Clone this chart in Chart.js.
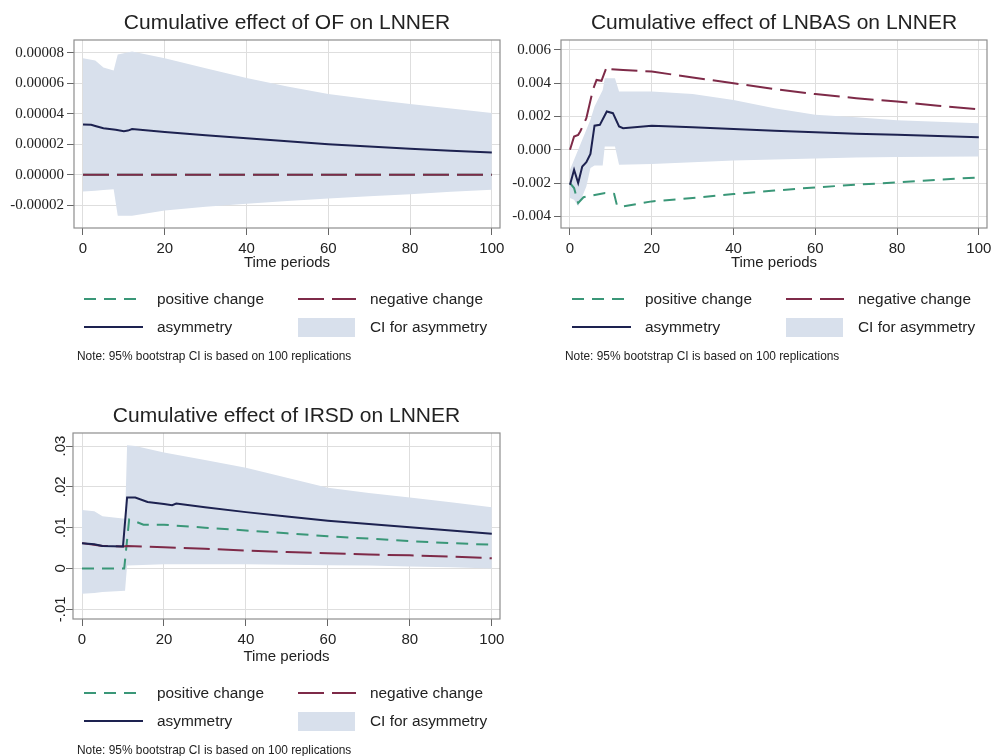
<!DOCTYPE html>
<html>
<head>
<meta charset="utf-8">
<script src="https://cdn.jsdelivr.net/npm/chart.js@4.4.1/dist/chart.umd.min.js"></script>
<style>
  html, body { margin: 0; padding: 0; background: #fff; }
  body { width: 991px; height: 756px; position: relative; overflow: hidden;
         font-family: "Liberation Sans", Arial, sans-serif; color: #222; }
  canvas { position: absolute; }
  .lg { position: absolute; font-size: 15.4px; line-height: 18px; white-space: nowrap; }
  .note { position: absolute; font-size: 11.9px; line-height: 14px; white-space: nowrap; }
  svg { position: absolute; overflow: visible; }
</style>
</head>
<body>
<canvas id="cOF" width="505" height="272" style="left:0;top:0"></canvas>
<canvas id="cBAS" width="503" height="272" style="left:488px;top:0"></canvas>
<canvas id="cIRSD" width="505" height="273" style="left:0;top:393px"></canvas>
<script>
  // ---- shared axis / legend text ----
  const xTicks = [0, 20, 40, 60, 80, 100];
  const xTitle = 'Time periods';
  const legendLabels = ['positive change', 'negative change', 'asymmetry', 'CI for asymmetry'];
  const noteText = 'Note: 95% bootstrap CI is based on 100 replications';

  // ---- OF on LNNER ----
  const ofAsymT = [0, 2, 3, 5, 8, 10, 11, 12, 20, 30, 40, 50, 60, 70, 80, 90, 100];
  const ofAsym  = [3.3e-5, 3.28e-5, 3.2e-5, 3.05e-5, 2.95e-5, 2.86e-5, 2.9e-5, 3.0e-5, 2.8e-5, 2.6e-5, 2.4e-5, 2.2e-5, 2.0e-5, 1.85e-5, 1.7e-5, 1.58e-5, 1.46e-5];
  const ofNegT  = [0, 100];
  const ofNeg   = [0, 0];
  const ofPosT  = [0, 100];
  const ofPos   = [0, 0];
  const ofCiT   = [0, 3, 5, 7.5, 8.5, 12, 20, 30, 40, 50, 60, 70, 80, 90, 100];
  const ofCiUp  = [7.65e-5, 7.5e-5, 7.05e-5, 6.85e-5, 7.9e-5, 8.1e-5, 7.65e-5, 7.0e-5, 6.35e-5, 5.8e-5, 5.3e-5, 4.95e-5, 4.65e-5, 4.35e-5, 4.05e-5];
  const ofCiLo  = [-1.1e-5, -1.05e-5, -1.0e-5, -0.95e-5, -2.7e-5, -2.7e-5, -2.35e-5, -2.1e-5, -1.9e-5, -1.72e-5, -1.57e-5, -1.42e-5, -1.28e-5, -1.12e-5, -0.98e-5];
  const ofYTicks  = [-0.00002, 0, 0.00002, 0.00004, 0.00006, 0.00008];
  const ofYLabels = ['-0.00002', '0.00000', '0.00002', '0.00004', '0.00006', '0.00008'];

  // ---- LNBAS on LNNER ----
  const basAsymT = [0, 1, 2, 3, 4, 5, 6, 7.3, 9, 10.5, 12, 13, 20, 30, 40, 50, 60, 70, 80, 90, 100];
  const basAsym  = [-0.0021, -0.0012, -0.0020, -0.0010, -0.00075, -0.00025, 0.00145, 0.0015, 0.0023, 0.0022, 0.0014, 0.0013, 0.00145, 0.00135, 0.00125, 0.00115, 0.00105, 0.00097, 0.0009, 0.00083, 0.00076];
  const basNegT  = [0, 1, 2, 2.5, 4, 5.6, 6.5, 7.7, 9, 10, 13, 20, 30, 40, 50, 60, 70, 80, 90, 100];
  const basNeg   = [0, 0.0008, 0.0009, 0.0011, 0.0019, 0.0036, 0.0042, 0.00415, 0.0050, 0.00485, 0.0048, 0.0047, 0.00435, 0.0040, 0.00365, 0.00335, 0.0031, 0.0029, 0.00265, 0.00244];
  const basPosT  = [0, 1, 2, 3.3, 8.6, 10.8, 11.5, 13, 20, 30, 40, 50, 60, 70, 80, 90, 100];
  const basPos   = [-0.0020, -0.0023, -0.0032, -0.00285, -0.0026, -0.00265, -0.00335, -0.0034, -0.0031, -0.0029, -0.00266, -0.00245, -0.00226, -0.0021, -0.00196, -0.0018, -0.00166];
  const basCiT   = [0, 1, 2, 3, 4, 5, 6, 7, 8, 8.5, 11, 12, 20, 30, 40, 50, 60, 70, 80, 90, 100];
  const basCiUp  = [-0.0012, -0.0006, 0, 0.0006, 0.0012, 0.0018, 0.0026, 0.0031, 0.0036, 0.0043, 0.0043, 0.0035, 0.0035, 0.00335, 0.0030, 0.0025, 0.0021, 0.00195, 0.00178, 0.00168, 0.0016];
  const basCiLo  = [-0.0029, -0.0030, -0.0034, -0.0028, -0.0022, -0.0011, -0.00095, -0.00095, -0.00095, 0.0002, 0.0002, -0.0009, -0.00085, -0.00075, -0.00065, -0.00058, -0.00052, -0.00047, -0.00043, -0.00042, -0.0004];
  const basYTicks  = [-0.004, -0.002, 0, 0.002, 0.004, 0.006];
  const basYLabels = ['-0.004', '-0.002', '0.000', '0.002', '0.004', '0.006'];

  // ---- IRSD on LNNER ----
  const irAsymT = [0, 3, 5, 10, 11, 13, 16, 20, 22, 23, 30, 40, 50, 60, 70, 80, 90, 100];
  const irAsym  = [0.0062, 0.0059, 0.0055, 0.0054, 0.0174, 0.0174, 0.0163, 0.0158, 0.0155, 0.0159, 0.015, 0.0138, 0.0127, 0.0117, 0.0109, 0.0101, 0.0093, 0.0085];
  const irNegT  = [0, 5, 10, 11, 20, 30, 40, 50, 60, 70, 80, 90, 100];
  const irNeg   = [0.0062, 0.0055, 0.0054, 0.0055, 0.0052, 0.0048, 0.0044, 0.0040, 0.0037, 0.0034, 0.0032, 0.0029, 0.0025];
  const irPosT  = [0, 10.3, 11.5, 13, 15, 20, 30, 40, 50, 60, 70, 80, 90, 100];
  const irPos   = [0, 0, 0.012, 0.0115, 0.0107, 0.0107, 0.0100, 0.0093, 0.0086, 0.0079, 0.0073, 0.0067, 0.0062, 0.0058];
  const irCiT   = [0, 3, 5, 10.5, 11, 13, 20, 30, 40, 50, 60, 70, 80, 90, 100];
  const irCiUp  = [0.0143, 0.014, 0.0128, 0.0122, 0.0302, 0.030, 0.0284, 0.0266, 0.0247, 0.0222, 0.0198, 0.0185, 0.0174, 0.0162, 0.015];
  const irCiLo  = [-0.0062, -0.006, -0.0058, -0.0055, 0.0007, 0.0008, 0.001, 0.001, 0.001, 0.0009, 0.0008, 0.0007, 0.0005, 0.0003, 0];
  const irYTicks  = [-0.01, 0, 0.01, 0.02, 0.03];
  const irYLabels = ['-.01', '0', '.01', '.02', '.03'];

  // ---- style ----
  const SANS = '"Liberation Sans", Arial, sans-serif';
  const SERIF = '"Liberation Serif", "Times New Roman", serif';
  const C = { asym: '#1d2250', neg: '#7e2a48', pos: '#3a9778', ci: '#d8e0ec', grid: '#dedede', tick: '#666', frame: '#8e8e8e', text: '#222' };
  const POS_DASH = [12, 8];
  const NEG_DASH = [26, 8];

  const pts = (t, v) => t.map((x, i) => ({ x, y: v[i] }));

  // grey box round the plot region
  const frame = {
    id: 'frame',
    beforeDatasetsDraw(chart) {
      const { ctx, chartArea: a } = chart;
      ctx.save();
      ctx.strokeStyle = C.frame;
      ctx.lineWidth = 1.2;
      ctx.strokeRect(a.left, a.top, a.width, a.height);
      ctx.restore();
    }
  };

  function makePanel(id, p) {
    const el = document.getElementById(id);
    const line = (label, t, v, color, dash) => ({
      label, data: pts(t, v), borderColor: color, borderWidth: 2, borderDash: dash || [],
      pointRadius: 0, fill: false, tension: 0
    });
    return new Chart(el, {
      type: 'line',
      data: {
        datasets: [
          line('asymmetry', p.asymT, p.asym, C.asym),
          line('negative change', p.negT, p.neg, C.neg, NEG_DASH),
          line('positive change', p.posT, p.pos, C.pos, p.posDash || POS_DASH),
          { label: 'CI upper', data: pts(p.ciT, p.ciUp), borderWidth: 0, pointRadius: 0, backgroundColor: C.ci, fill: '+1', tension: 0 },
          { label: 'CI lower', data: pts(p.ciT, p.ciLo), borderWidth: 0, pointRadius: 0, fill: false, tension: 0 }
        ]
      },
      options: {
        responsive: false,
        animation: false,
        layout: { padding: { left: 0, top: 0, bottom: 0, right: el.width - p.area.right } },
        plugins: {
          legend: { display: false },
          tooltip: { enabled: false },
          title: {
            display: true, text: p.title, fullSize: false, color: C.text,
            font: { family: SANS, size: 21, weight: 'normal' },
            padding: { top: 11, bottom: p.area.top - 11 - 25.2 }
          }
        },
        scales: {
          x: {
            type: 'linear', min: -2.2, max: 102,
            afterBuildTicks: s => { s.ticks = xTicks.map(v => ({ value: v })); },
            afterFit: s => { s.height = el.height - p.area.bottom; s.paddingLeft = 0; s.paddingRight = 0; },
            grid: { color: C.grid, tickColor: C.tick, tickLength: 7, drawTicks: true },
            border: { display: false },
            ticks: { color: C.text, padding: 5, maxRotation: 0, font: { family: SANS, size: 15 } },
            title: { display: true, text: xTitle, color: C.text, font: { family: SANS, size: 15 }, padding: { top: 0, bottom: 0 } }
          },
          y: {
            type: 'linear', min: p.yMin, max: p.yMax,
            afterBuildTicks: s => { s.ticks = p.yTicks.map(v => ({ value: v })); },
            afterFit: s => { s.width = p.area.left; s.paddingTop = 0; s.paddingBottom = 0; },
            grid: { color: C.grid, tickColor: C.tick, tickLength: 7, drawTicks: true },
            border: { display: false },
            ticks: Object.assign({
              color: C.text, padding: 3,
              font: { family: p.yFont, size: 15 },
              callback: (v, i) => p.yLabels[i]
            }, p.yTickExtra || {})
          }
        }
      },
      plugins: [frame]
    });
  }

  makePanel('cOF', {
    title: 'Cumulative effect of OF on LNNER',
    area: { left: 74, top: 40, right: 500, bottom: 228 },
    asymT: ofAsymT, asym: ofAsym, negT: ofNegT, neg: ofNeg, posT: ofPosT, pos: ofPos, posDash: NEG_DASH,
    ciT: ofCiT, ciUp: ofCiUp, ciLo: ofCiLo,
    yMin: -0.000035, yMax: 0.0000885, yTicks: ofYTicks, yLabels: ofYLabels, yFont: SERIF
  });

  makePanel('cBAS', {
    title: 'Cumulative effect of LNBAS on LNNER',
    area: { left: 73, top: 40, right: 499, bottom: 228 },
    asymT: basAsymT, asym: basAsym, negT: basNegT, neg: basNeg, posT: basPosT, pos: basPos,
    ciT: basCiT, ciUp: basCiUp, ciLo: basCiLo,
    yMin: -0.0047, yMax: 0.0066, yTicks: basYTicks, yLabels: basYLabels, yFont: SERIF
  });

  makePanel('cIRSD', {
    title: 'Cumulative effect of IRSD on LNNER',
    area: { left: 73, top: 40, right: 500, bottom: 226 },
    asymT: irAsymT, asym: irAsym, negT: irNegT, neg: irNeg, posT: irPosT, pos: irPos,
    ciT: irCiT, ciUp: irCiUp, ciLo: irCiLo,
    yMin: -0.0124, yMax: 0.0332, yTicks: irYTicks, yLabels: irYLabels, yFont: SANS,
    yTickExtra: { minRotation: 90, maxRotation: 90, crossAlign: 'center', padding: -8 }
  });

  // legend block under each panel (html, same colours/dashes as the datasets)
  function addLegend(dx, dy) {
    const b = document.body;
    const add = html => b.insertAdjacentHTML('beforeend', html);
    const sample = (x1, x2, y, color, dash) =>
      add(`<svg width="1" height="1" style="left:${dx}px;top:${dy}px"><line x1="${x1}" y1="${y}" x2="${x2}" y2="${y}" stroke="${color}" stroke-width="2" stroke-dasharray="${dash.join(' ')}"/></svg>`);
    sample(84, 143, 299, C.pos, POS_DASH);
    sample(298, 356, 299, C.neg, NEG_DASH);
    sample(84, 143, 327, C.asym, []);
    add(`<div style="position:absolute;left:${dx + 298}px;top:${dy + 318}px;width:57px;height:19px;background:${C.ci}"></div>`);
    add(`<div class="lg" style="left:${dx + 157}px;top:${dy + 290}px">${legendLabels[0]}</div>`);
    add(`<div class="lg" style="left:${dx + 370}px;top:${dy + 290}px">${legendLabels[1]}</div>`);
    add(`<div class="lg" style="left:${dx + 157}px;top:${dy + 318}px">${legendLabels[2]}</div>`);
    add(`<div class="lg" style="left:${dx + 370}px;top:${dy + 318}px">${legendLabels[3]}</div>`);
    add(`<div class="note" style="left:${dx + 77}px;top:${dy + 349}px">${noteText}</div>`);
  }
  addLegend(0, 0);
  addLegend(488, 0);
  addLegend(0, 394);
</script>
</body>
</html>
